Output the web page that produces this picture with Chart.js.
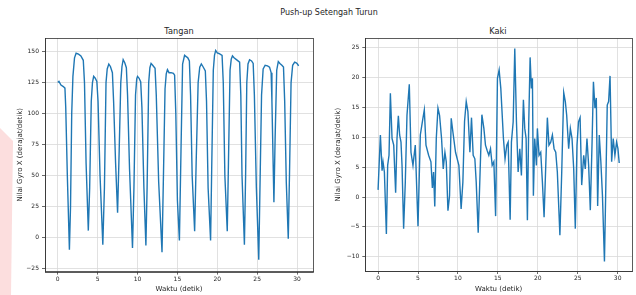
<!DOCTYPE html>
<html>
<head>
<meta charset="utf-8">
<script src="https://cdn.jsdelivr.net/npm/chart.js@4"></script>
<style>
  body { margin: 0; width: 636px; height: 295px; background: #fff; position: relative; overflow: hidden; font-family: "DejaVu Sans", sans-serif; color: #262626; }
  .box { position: absolute; top: 0; width: 318px; height: 295px; }
  .ttl { position: absolute; white-space: nowrap; transform: translate(-50%, -50%); }
  #mark { position: absolute; left: 0; top: 0; width: 14px; height: 295px; background: #fcdede;
          clip-path: polygon(0 128px, 13px 141px, 11px 295px, 0 295px); }
</style>
</head>
<body>
<div id="mark"></div>
<div class="ttl" style="left:329px; top:12px; font-size:8px;">Push-up Setengah Turun</div>
<div class="ttl" style="left:179px; top:31px; font-size:8.2px;">Tangan</div>
<div class="ttl" style="left:498px; top:31px; font-size:8.2px;">Kaki</div>
<div class="box" style="left:0"><canvas id="tangan" width="318" height="295"></canvas></div>
<div class="box" style="left:318px"><canvas id="kaki" width="318" height="295"></canvas></div>
<script>
// waktu (detik) dan nilai gyro X, tangan
const tanganT = [0.0, 0.15, 0.4, 0.7, 0.9, 1.0, 1.2, 1.46, 1.6, 1.75, 1.9, 2.1, 2.3, 2.6, 2.9, 3.2, 3.35, 3.55, 3.83, 4.0, 4.2, 4.35, 4.5, 4.7, 4.9,
  5.05, 5.3, 5.65, 5.85, 6.05, 6.2, 6.4, 6.6, 6.85, 7.0, 7.25, 7.5, 7.7, 7.9, 8.05, 8.2, 8.4, 8.6, 8.75, 9.0, 9.37, 9.55, 9.75, 9.9,
  10.0, 10.2, 10.4, 10.55, 10.8, 11.05, 11.2, 11.4, 11.55, 11.7, 11.9, 12.2, 12.35, 12.65, 13.07, 13.25, 13.45, 13.6, 13.75, 13.95,
  14.2, 14.5, 14.65, 14.8, 15.0, 15.25, 15.45, 15.65, 15.9, 16.1, 16.3, 16.5, 16.65, 16.85, 17.16, 17.35, 17.6, 17.8, 18.0, 18.2,
  18.5, 18.65, 18.85, 19.16, 19.3, 19.5, 19.65, 19.8, 20.0, 20.2, 20.6, 20.75, 20.95, 21.25, 21.4, 21.6, 21.75, 21.9, 22.1, 22.4,
  22.8, 22.95, 23.1, 23.4, 23.55, 23.7, 23.85, 24.05, 24.3, 24.5, 24.65, 24.9, 25.2, 25.35, 25.55, 25.75, 26.0, 26.3, 26.55, 26.75,
  26.85, 27.1, 27.25, 27.45, 27.65, 27.85, 28.1, 28.3, 28.45, 28.65, 28.9, 29.05, 29.25, 29.45, 29.7, 29.9, 30.05, 30.2];
const tanganV = [125, 126, 123, 121.8, 120.5, 105, 50, -10, 25, 100, 130, 145, 148.7, 148, 146.5, 143, 125, 60, 5.5, 40, 110, 125, 130, 128.5, 126,
  110, 50, -6, 40, 125, 136, 140, 138, 133, 110, 60, 20, 70, 125, 138, 143.5, 141, 137, 115, 55, -8.6, 40, 115, 128,
  130, 128.5, 125.5, 105, 40, -6.5, 40, 125, 137, 140.5, 139, 136.5, 115, 45, -12, 50, 120, 132, 135.5, 133,
  133, 132.5, 131, 100, 30, -2.5, 70, 140, 147, 146, 145, 142.5, 115, 50, 5, 60, 125, 137.5, 140, 138,
  134.5, 110, 40, -2.5, 55, 135, 147, 151, 149, 148.5, 147, 125, 50, 5, 60, 135, 144, 146.5, 145, 143.5,
  141.5, 115, 50, -6, 50, 125, 140, 143.5, 142.5, 140.5, 115, 40, -18, 40, 115, 136, 139, 138.5, 137.5, 133,
  110, 28.5, 80, 135, 142, 140.5, 139, 137.5, 110, 45, -1, 50, 125, 139, 141.5, 141, 140, 138.5];

// waktu (detik) dan nilai gyro X, kaki
const kakiT = [0.0, 0.15, 0.29, 0.5, 0.62, 0.79, 1.04, 1.2, 1.37, 1.54, 1.75, 1.96, 2.2, 2.37, 2.54, 2.7, 2.87, 3.0, 3.2, 3.41, 3.62, 3.91,
  4.12, 4.37, 4.66, 5.0, 5.29, 5.58, 5.79, 6.0, 6.33, 6.62, 6.8, 6.95, 7.1, 7.29, 7.5, 7.7, 7.95, 8.16, 8.37, 8.54, 8.75, 8.95,
  9.16, 9.37, 9.7, 10.12, 10.4, 10.62, 10.83, 11.04, 11.25, 11.5, 11.7, 11.91, 12.12, 12.29, 12.54, 12.75, 13.0, 13.25, 13.45,
  13.66, 13.87, 14.08, 14.29, 14.5, 14.72, 14.95, 15.16, 15.37, 15.7, 15.9, 16.12, 16.29, 16.54, 16.7, 16.92, 17.12, 17.33, 17.54,
  17.75, 17.95, 18.2, 18.37, 18.54, 18.7, 18.87, 19.04, 19.2, 19.33, 19.45, 19.62, 19.83, 19.95, 20.16, 20.37, 20.58, 20.79, 21.0,
  21.2, 21.4, 21.62, 21.83, 22.04, 22.25, 22.45, 22.77, 23.0, 23.25, 23.45, 23.62, 23.87, 24.08, 24.29, 24.5, 24.7, 24.91, 25.1,
  25.3, 25.5, 25.75, 25.95, 26.16, 26.37, 26.58, 26.8, 26.97, 27.16, 27.33, 27.5, 27.7, 27.9, 28.1, 28.35, 28.5, 28.7, 28.87,
  29.05, 29.25, 29.45, 29.66, 29.87, 30.04, 30.2];
const kakiV = [1.2, 6, 10.4, 4.4, 5.9, 4.2, -6.2, 5.3, 7.0, 17.4, 9.8, 8.7, 0.7, 9.8, 13.6, 10.4, 9.2, 5.3, -5.3, 2.5, 13.7, 18.9,
  7.5, 5.3, 8.7, -4.9, 10.4, 12.9, 14.6, 8.7, 7.0, 5.9, 1.5, 4.2, -1.6, 9.8, 14.9, 13.7, 9.8, 4.7, 7.5, 5.9, -2.3, 0.2,
  13.2, 10.9, 7.5, 5.3, -2.0, 2.5, 12.7, 16.0, 14.3, 7.5, 13.3, 7.0, 6.4, 2.5, -6.0, 3.1, 13.8, 11.5, 8.7,
  7.8, 7.0, 8.1, 5.3, 5.9, -3.2, 19.9, 21.3, 18.2, 9.8, 6.4, 8.7, 9.2, -3.8, 9.2, 12.6, 24.9, 12.6, 4.2,
  8.1, 3.6, 16.3, 11.5, 9.8, -3.9, 12.6, 23.4, 18.2, 19.9, 0.2, 9.8, 5.3, 11.5, 7.0, 7.5, 2.5, -3.4, 5.3,
  13.3, 8.7, 9.2, 10.4, 8.1, 7.5, 4.2, -6.4, 4.2, 17.5, 16.0, 13.7, 8.1, 11.5, 9.8, 4.7, -5.3, 8.7, 12.6,
  13.3, 2.0, 7.0, 4.7, 9.8, 5.3, -2.2, 9.2, 19.3, 14.9, 16.6, -1.5, 10.4, 5.9, 0.2, -10.8, 0.2, 15.4, 16.0,
  20.3, 5.9, 9.8, 7.0, 9.2, 8.1, 5.7];

const xTicks = [0, 5, 10, 15, 20, 25, 30];
const tanganYTicks = [-25, 0, 25, 50, 75, 100, 125, 150];
const kakiYTicks = [-10, -5, 0, 5, 10, 15, 20, 25];

Chart.defaults.font.family = "'DejaVu Sans', sans-serif";
Chart.defaults.color = '#262626';

const frame = {
  id: 'frame',
  afterDraw(chart) {
    const a = chart.chartArea, ctx = chart.ctx;
    ctx.save();
    ctx.strokeStyle = '#333';
    ctx.lineWidth = 0.8;
    ctx.strokeRect(Math.round(a.left) + 0.5, Math.round(a.top) + 0.5, Math.round(a.right - a.left), Math.round(a.bottom - a.top));
    ctx.restore();
  }
};

function makeChart(id, ts, vs, yTicks, o) {
  new Chart(document.getElementById(id), {
    type: 'line',
    data: {
      datasets: [{
        data: ts.map((t, i) => ({ x: t, y: vs[i] })),
        borderColor: '#1f77b4',
        borderWidth: 1.4,
        pointRadius: 0,
        tension: 0
      }]
    },
    options: {
      responsive: false,
      animation: false,
      layout: { padding: { left: 0, right: o.padRight, top: o.padTop, bottom: 0 } },
      plugins: { legend: { display: false }, tooltip: { enabled: false } },
      scales: {
        x: {
          type: 'linear', min: o.xMin, max: o.xMax,
          afterBuildTicks: s => { s.ticks = xTicks.map(v => ({ value: v })); },
          afterFit: s => { s.height = o.xH; },
          grid: { color: '#d9d9d9', lineWidth: 0.8, tickLength: 3, tickColor: '#444' },
          border: { color: '#333', width: 0.8 },
          ticks: { font: { size: 6 }, padding: 1, maxRotation: 0 },
          title: { display: true, text: 'Waktu (detik)', font: { size: 7 }, padding: { top: 0, bottom: 1.5 } }
        },
        y: {
          min: o.yMin, max: o.yMax,
          afterBuildTicks: s => { s.ticks = yTicks.map(v => ({ value: v })); },
          afterFit: s => { s.width = o.yW; },
          grid: { color: '#d9d9d9', lineWidth: 0.8, tickLength: 3, tickColor: '#444' },
          border: { color: '#333', width: 0.8 },
          ticks: { font: { size: 6 }, padding: 3, callback: v => String(v).replace('-', '\u2212') },
          title: { display: true, text: 'Nilai Gyro X (derajat/detik)', font: { size: 7 }, padding: { top: o.yTitlePad, bottom: 0 } }
        }
      }
    },
    plugins: [frame]
  });
}

makeChart('tangan', tanganT, tanganV, tanganYTicks,
  { xMin: -1.6, xMax: 32.0, yMin: -27.6, yMax: 161.0, padRight: 5, padTop: 38, xH: 23.4, yW: 45, yTitlePad: 15.8 });
makeChart('kaki', kakiT, kakiV, kakiYTicks,
  { xMin: -1.6, xMax: 31.8, yMin: -12.4, yMax: 26.6, padRight: 4, padTop: 38.3, xH: 24, yW: 47.3, yTitlePad: 16.3 });
</script>
</body>
</html>
